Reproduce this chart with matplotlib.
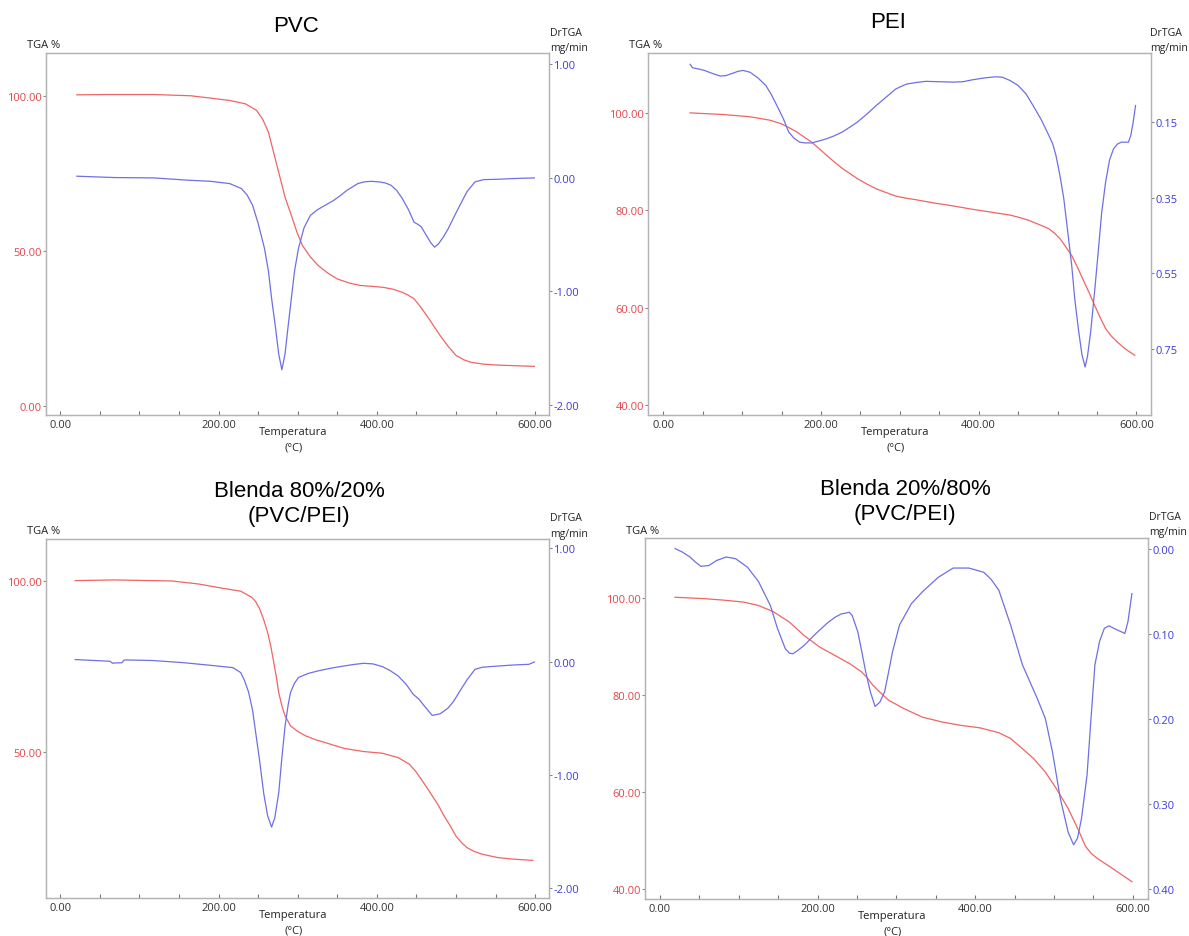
import matplotlib
matplotlib.use("Agg")
import matplotlib.pyplot as plt

W, H = 1189, 937

RED_LINE = "#f06464"
BLUE_LINE = "#6f6fe6"
RED_TXT = "#e0474c"
BLUE_TXT = "#3c3cd8"
FRAME = "#b4b4b4"

# ---- PVC ----
pvc_t_tga = [21, 60, 118, 165, 214, 234, 248, 256, 263, 270, 277, 284, 292, 299, 306, 316, 326, 338,
             350, 365, 379, 394, 408, 420, 432, 440, 447, 456, 466, 473, 480, 490, 500, 510, 519, 535,
             553, 575, 599]
pvc_tga = [100.5, 100.6, 100.6, 100.2, 98.7, 97.6, 95.5, 92.5, 88.5, 81.5, 74.5, 67.5, 61.6, 56.2, 51.9,
           48.2, 45.4, 43.0, 41.1, 39.8, 39.0, 38.7, 38.4, 37.8, 36.8, 35.8, 34.7, 31.8, 28.2, 25.5, 22.8,
           19.4, 16.4, 15.0, 14.2, 13.6, 13.3, 13.1, 12.9]
pvc_t_dtg = [21, 69, 118, 161, 190, 214, 229, 236, 243, 250, 258, 263, 267, 272, 276, 280, 284, 288, 292,
             296, 301, 308, 316, 325, 335, 345, 355, 362, 369, 376, 384, 393, 403, 411, 418, 425, 432, 440,
             447, 452, 456, 462, 468, 473, 478, 484, 490, 497, 505, 514, 524, 535, 553, 575, 599]
pvc_dtg = [0.015, 0.003, 0.0, -0.02, -0.03, -0.05, -0.094, -0.15, -0.24, -0.40, -0.62, -0.82, -1.06, -1.32,
           -1.55, -1.69, -1.55, -1.30, -1.06, -0.82, -0.62, -0.44, -0.33, -0.28, -0.24, -0.20, -0.15, -0.11,
           -0.08, -0.05, -0.035, -0.03, -0.035, -0.045, -0.065, -0.11, -0.18, -0.28, -0.39, -0.41, -0.43,
           -0.50, -0.57, -0.61, -0.58, -0.52, -0.45, -0.35, -0.24, -0.12, -0.035, -0.015, -0.012, -0.005, 0.0]

# ---- PEI ----
pei_t_tga = [34, 76, 110, 135, 149, 159, 169, 178, 188, 198, 207, 217, 227, 237, 246, 258, 270, 283, 295,
             307, 319, 343, 367, 392, 416, 440, 452, 464, 476, 489, 496, 503, 510, 518, 525, 532, 540, 547,
             554, 561, 568, 576, 587, 598]
pei_tga = [100, 99.66, 99.2, 98.5, 97.8, 97.0, 96.1, 95.1, 94.0, 92.6, 91.3, 89.9, 88.6, 87.5, 86.5, 85.4,
           84.4, 83.6, 82.9, 82.5, 82.2, 81.5, 80.9, 80.2, 79.6, 79.0, 78.5, 77.9, 77.1, 76.2, 75.3, 74.2,
           72.6, 70.7, 68.4, 65.9, 63.1, 60.5, 58.0, 55.7, 54.2, 52.9, 51.4, 50.2]
pei_t_dtg = [34, 37, 44, 52, 62, 72, 79, 86, 94, 101, 110, 120, 130, 137, 144, 152, 159, 166, 173, 180, 188,
             197, 207, 217, 227, 236, 246, 258, 270, 283, 295, 302, 309, 321, 333, 350, 367, 380, 392, 404,
             416, 423, 430, 440, 450, 460, 469, 479, 489, 494, 498, 503, 508, 513, 518, 522, 527, 531, 535,
             538, 542, 547, 552, 556, 561, 566, 571, 576, 581, 586, 590, 593, 596, 599]
pei_dtg = [-0.003, 0.006, 0.009, 0.013, 0.021, 0.028, 0.027, 0.022, 0.016, 0.013, 0.018, 0.033, 0.053,
           0.077, 0.106, 0.14, 0.176, 0.193, 0.203, 0.205, 0.205, 0.200, 0.194, 0.186, 0.176, 0.164, 0.15,
           0.129, 0.106, 0.083, 0.062, 0.055, 0.049, 0.045, 0.042, 0.043, 0.044, 0.043, 0.038, 0.034, 0.031,
           0.030, 0.031, 0.040, 0.053, 0.075, 0.106, 0.142, 0.185, 0.208, 0.238, 0.29, 0.353, 0.44, 0.529,
           0.62, 0.706, 0.765, 0.798, 0.77, 0.706, 0.6, 0.485, 0.39, 0.309, 0.25, 0.221, 0.208, 0.203,
           0.203, 0.203, 0.185, 0.15, 0.106]

# ---- Blenda 80/20 ----
b80_t_tga = [19, 68, 141, 175, 204, 228, 242, 247, 252, 257, 262, 266, 269, 273, 276, 280, 284, 291, 300,
             310, 322, 335, 359, 383, 407, 427, 441, 449, 456, 463, 470, 478, 485, 493, 500, 507, 514, 523,
             533, 553, 575, 597]
b80_tga = [100.2, 100.4, 100.1, 99.2, 98.0, 97.1, 95.3, 94.0, 91.9, 88.8, 85.0, 81.0, 77.2, 72.0, 67.4,
           63.5, 60.6, 57.6, 56.0, 54.7, 53.6, 52.7, 51.0, 50.1, 49.6, 48.3, 46.4, 44.3, 42.0, 39.6, 37.1,
           34.2, 31.2, 28.2, 25.3, 23.4, 21.9, 20.8, 20.0, 19.0, 18.5, 18.2]
b80_t_dtg = [19, 63, 66, 68, 78, 80, 82, 116, 155, 189, 218, 228, 233, 238, 243, 247, 252, 257, 262, 267,
             271, 276, 280, 284, 288, 291, 296, 301, 313, 325, 342, 359, 371, 383, 395, 407, 417, 427, 437,
             446, 453, 461, 470, 480, 490, 497, 504, 514, 524, 533, 543, 572, 592, 599]
b80_dtg = [0.018, 0.003, -0.015, -0.012, -0.01, 0.01, 0.015, 0.01, -0.009, -0.032, -0.053, -0.097, -0.17,
           -0.27, -0.43, -0.63, -0.88, -1.16, -1.36, -1.46, -1.38, -1.16, -0.85, -0.57, -0.38, -0.27, -0.19,
           -0.14, -0.105, -0.083, -0.058, -0.038, -0.025, -0.015, -0.02, -0.044, -0.08, -0.127, -0.2,
           -0.289, -0.33, -0.40, -0.475, -0.46, -0.41, -0.35, -0.27, -0.16, -0.068, -0.05, -0.044, -0.03,
           -0.024, -0.003]

# ---- Blenda 20/80 ----
b20_t_tga = [19, 57, 81, 106, 125, 144, 164, 183, 203, 222, 241, 256, 263, 270, 280, 290, 309, 333, 358,
             382, 406, 430, 445, 460, 474, 489, 503, 518, 532, 540, 548, 556, 571, 599]
b20_tga = [100.1, 99.8, 99.5, 99.1, 98.4, 97.1, 95.0, 92.2, 89.8, 88.1, 86.4, 84.7, 83.5, 82.0, 80.4, 78.9,
           77.2, 75.4, 74.4, 73.7, 73.2, 72.2, 71.0, 68.9, 66.9, 64.1, 60.7, 56.6, 51.8, 48.8, 47.2, 46.2,
           44.6, 41.5]
b20_t_dtg = [19, 28, 38, 45, 52, 62, 72, 84, 96, 111, 125, 140, 149, 159, 164, 168.5, 175, 183, 198, 212,
             222, 230, 236, 240, 244, 251, 256, 261, 267, 273, 279, 285, 290, 295, 304, 319, 333, 353, 372,
             392, 411, 420, 430, 445, 460, 479, 489, 498, 508, 518, 525, 530, 535, 542, 547, 552, 558, 564,
             570, 576, 590, 594, 599]
b20_dtg = [-0.001, 0.003, 0.009, 0.015, 0.020, 0.019, 0.013, 0.009, 0.011, 0.021, 0.038, 0.066, 0.093,
           0.117, 0.122, 0.123, 0.119, 0.113, 0.099, 0.087, 0.080, 0.076, 0.075, 0.074, 0.078, 0.097, 0.12,
           0.144, 0.168, 0.185, 0.18, 0.168, 0.145, 0.121, 0.089, 0.064, 0.050, 0.033, 0.022, 0.022, 0.027,
           0.035, 0.048, 0.089, 0.136, 0.176, 0.199, 0.238, 0.293, 0.333, 0.348, 0.34, 0.317, 0.266, 0.2,
           0.136, 0.108, 0.093, 0.09, 0.093, 0.099, 0.085, 0.052]

x_major = [0, 200, 400, 600]
x_minor = [50, 100, 150, 250, 300, 350, 450, 500, 550]

TXT_FONT = ["Open Sans", "DejaVu Sans"]
TITLE_FONT = ["Liberation Sans", "DejaVu Sans"]
FS = 8


def fx(px):
    return px / W


def fy(py):
    return 1 - py / H


def panel(fig, box, title, title_xy, t_tga, tga, t_dtg, dtg, ylim_l, yticks_l, ylim_r, yticks_r,
          xlim):
    left, top, right, bottom = box
    ax = fig.add_axes([fx(left), fy(bottom), (right - left) / W, (bottom - top) / H])
    ax2 = ax.twinx()

    ax.plot(t_tga, tga, color=RED_LINE, linewidth=0.9)
    ax2.plot(t_dtg, dtg, color=BLUE_LINE, linewidth=0.9)

    ax.set_xlim(*xlim)
    ax.set_ylim(*ylim_l)
    ax2.set_ylim(*ylim_r)

    ax.set_xticks(x_major)
    ax.set_xticklabels([f"{v:.2f}" for v in x_major], fontfamily=TXT_FONT, fontsize=FS, color="#333333")
    ax.set_xticks(x_minor, minor=True)
    ax.tick_params(axis="x", which="both", direction="in", length=3, width=0.8, color="#777777", pad=3)

    ax.set_yticks(yticks_l)
    ax.set_yticklabels([f"{v:.2f}" for v in yticks_l], fontfamily=TXT_FONT, fontsize=FS, color=RED_TXT)
    ax.tick_params(axis="y", direction="out", length=2, width=0.8, color="#888888", pad=1)

    ax2.set_yticks(yticks_r)
    ax2.set_yticklabels([f"{v:.2f}" for v in yticks_r], fontfamily=TXT_FONT, fontsize=FS, color=BLUE_TXT)
    ax2.tick_params(axis="y", direction="out", length=2, width=0.8, color="#888888", pad=1)

    for a in (ax, ax2):
        for s in a.spines.values():
            s.set_color(FRAME)
            s.set_linewidth(0.9)

    fig.text(fx(title_xy[0]), fy(title_xy[1]), title, ha="center", va="center", fontsize=16,
             fontfamily=TITLE_FONT, linespacing=1.22)
    fig.text(fx(left - 2), fy(top - 8), "TGA %", ha="center", va="center", fontsize=FS,
             fontfamily=TXT_FONT, color="#222222")
    # units label kept inside the canvas for the right-hand panels
    ux = min(right + 1, W - 39)
    fig.text(fx(ux), fy(top - 21), "DrTGA", ha="left", va="center", fontsize=7.6,
             fontfamily=TXT_FONT, color="#222222")
    fig.text(fx(ux), fy(top - 6), "mg/min", ha="left", va="center", fontsize=7.6,
             fontfamily=TXT_FONT, color="#222222")
    xc = (left + right) / 2 - 4
    fig.text(fx(xc), fy(bottom + 17), "Temperatura", ha="center", va="center", fontsize=FS,
             fontfamily=TXT_FONT, color="#222222")
    fig.text(fx(xc), fy(bottom + 32), "(°C)", ha="center", va="center", fontsize=FS,
             fontfamily=TXT_FONT, color="#222222")
    return ax, ax2


fig = plt.figure(figsize=(W / 100, H / 100), dpi=100)

panel(fig, (46, 54, 549, 416), "PVC", (296, 26), pvc_t_tga, pvc_tga, pvc_t_dtg, pvc_dtg,
      (-2.8, 114.0), [0, 50, 100], (-2.088, 1.10), [-2, -1, 0, 1], (-18, 617.5))

panel(fig, (648, 54, 1151, 416), "PEI", (888, 22), pei_t_tga, pei_tga, pei_t_dtg, pei_dtg,
      (37.94, 112.3), [40, 60, 80, 100], (0.925, -0.033), [0.15, 0.35, 0.55, 0.75], (-19.5, 618.6))

panel(fig, (46, 540, 549, 899), "Blenda 80%/20%\n(PVC/PEI)", (299, 504), b80_t_tga, b80_tga,
      b80_t_dtg, b80_dtg, (7.16, 112.4), [50, 100], (-2.086, 1.082), [-2, -1, 0, 1], (-18, 617.5))

panel(fig, (645, 539, 1148, 900), "Blenda 20%/80%\n(PVC/PEI)", (905, 502), b20_t_tga, b20_tga,
      b20_t_dtg, b20_dtg, (37.94, 112.3), [40, 60, 80, 100], (0.4118, -0.0134),
      [0.0, 0.1, 0.2, 0.3, 0.4], (-19.1, 619.4))

fig.savefig("out.png", dpi=100, facecolor="white")
